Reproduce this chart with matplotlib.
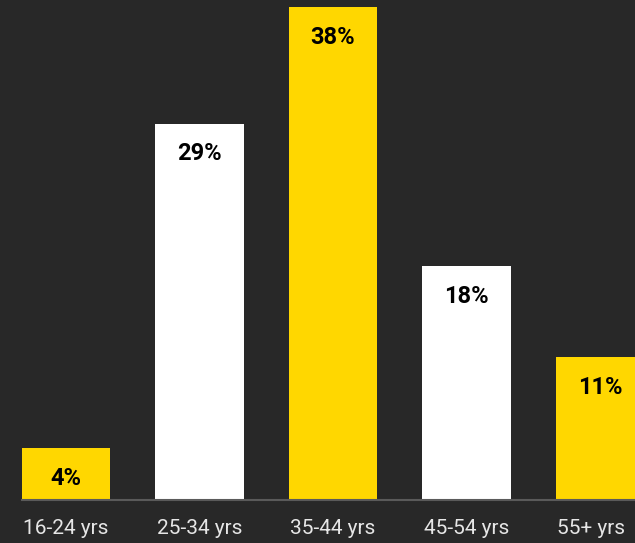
import matplotlib.pyplot as plt
import matplotlib.transforms as mtransforms

plt.rcParams['font.family'] = ['Roboto', 'DejaVu Sans']

# age groups and share of respondents (%)
groups = ['16-24 yrs', '25-34 yrs', '35-44 yrs', '45-54 yrs', '55+ yrs']
share = [4, 29, 38, 18, 11]
colors = ['#FFD700', '#FFFFFF', '#FFD700', '#FFFFFF', '#FFD700']

bg = '#282828'
fig = plt.figure(figsize=(6.35, 5.43), dpi=100, facecolor=bg)
ax = fig.add_axes([22 / 635, 43 / 543, 613 / 635, 500 / 543], facecolor=bg)

x = range(len(groups))
bars = ax.bar(x, share, width=0.66, color=colors, zorder=2)

for b, v in zip(bars, share):
    ax.annotate(f'{v}%', (b.get_x() + b.get_width() / 2, v),
                xytext=(0, -30), textcoords='offset pixels',
                ha='center', va='center', fontsize=17, fontweight='bold', color='black')

ax.set_xlim(-0.33, 4.262)
ax.set_ylim(0, 38.54)
ax.set_xticks(list(x))
ax.set_xticklabels(groups, fontsize=15, color='#E6E6E6')
ax.tick_params(axis='x', length=0, pad=14)
ax.set_yticks([])
for s in ['top', 'right', 'left']:
    ax.spines[s].set_visible(False)
ax.spines['bottom'].set_color('#5a5a5a')
ax.spines['bottom'].set_linewidth(1.5)

# last label sits a little left so it stays inside the figure
last = ax.get_xticklabels()[-1]
last.set_transform(last.get_transform() + mtransforms.ScaledTranslation(-0.09, 0, fig.dpi_scale_trans))

plt.savefig('out.png', dpi=100, facecolor=bg)
